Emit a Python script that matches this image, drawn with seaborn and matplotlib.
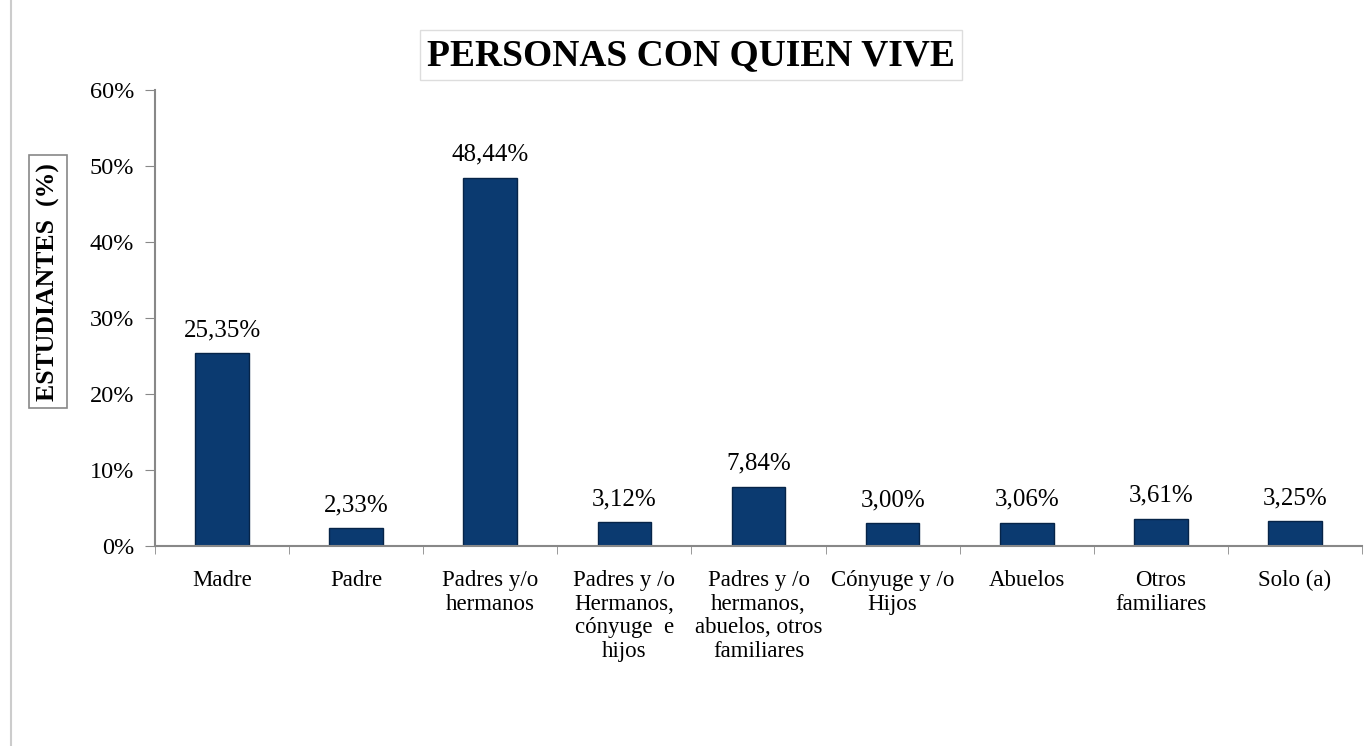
import matplotlib
matplotlib.use("Agg")
import matplotlib.pyplot as plt
import seaborn as sns
import pandas as pd
import numpy as np
from matplotlib.ticker import FuncFormatter, FixedLocator

categorias = ["Madre", "Padre", "Padres y/o\nhermanos", "Padres y /o\nHermanos,\ncónyuge  e\nhijos",
              "Padres y /o\nhermanos,\nabuelos, otros\nfamiliares", "Cónyuge y /o\nHijos",
              "Abuelos", "Otros\nfamiliares", "Solo (a)"]
porcentajes = [25.35, 2.33, 48.44, 3.12, 7.84, 3.00, 3.06, 3.61, 3.25]
etiquetas = ["25,35%", "2,33%", "48,44%", "3,12%", "7,84%", "3,00%", "3,06%", "3,61%", "3,25%"]

df = pd.DataFrame({"Categoria": categorias, "Porcentaje": porcentajes})

sns.set_style("white")
plt.rcParams['font.family'] = ['Liberation Serif', 'DejaVu Serif']
plt.rcParams['text.color'] = 'black'
plt.rcParams['xtick.color'] = 'black'
plt.rcParams['ytick.color'] = 'black'
plt.rcParams['axes.labelcolor'] = 'black'

fig = plt.figure(figsize=(13.64, 7.46), dpi=100)
ax = fig.add_axes([0.1136, 0.268, 0.885, 0.611])

sns.barplot(data=df, x="Categoria", y="Porcentaje", color="#0B3A70", width=0.4,
            edgecolor="#062448", linewidth=1, saturation=1, ax=ax)

for i, (v, t) in enumerate(zip(porcentajes, etiquetas)):
    ax.text(i, v + 1.6, t, ha="center", va="bottom", fontsize=18)

ax.set_ylim(0, 60)
ax.set_xlim(-0.5, len(categorias) - 0.5)
ax.set_yticks(np.arange(0, 61, 10))
ax.yaxis.set_major_formatter(FuncFormatter(lambda y, p: f"{int(y)}%"))
ax.tick_params(axis="y", labelsize=17.5, length=7, color="#888888", direction="out", left=True, pad=8)
ax.tick_params(axis="x", which="major", labelsize=16.5, length=0, pad=17)
ax.xaxis.set_minor_locator(FixedLocator(np.arange(-0.5, len(categorias), 1)))
ax.tick_params(axis="x", which="minor", length=6, color="#888888", direction="out", bottom=True)
for lbl in ax.get_xticklabels():
    lbl.set_linespacing(1.18)

for s in ["top", "right"]:
    ax.spines[s].set_visible(False)
for s in ["left", "bottom"]:
    ax.spines[s].set_color("#888888")
    ax.spines[s].set_linewidth(1.5)

ax.set_xlabel("")
ax.set_ylabel("ESTUDIANTES  (%)", fontsize=18.5, fontweight="bold",
              bbox=dict(boxstyle="square,pad=0.3", facecolor="white", edgecolor="#888888", linewidth=1.2))
ax.yaxis.set_label_coords(-0.079, 0.58)

fig.text(0.5066, 0.926, "PERSONAS CON QUIEN VIVE", ha="center", va="center", fontsize=27, fontweight="bold",
         bbox=dict(boxstyle="square,pad=0.2", facecolor="white", edgecolor="#dddddd", linewidth=1))

# borde izquierdo del gráfico
fig.add_artist(plt.Line2D([0.008, 0.008], [0.0, 1.0], color="#cccccc", linewidth=1.5))

fig.savefig("out.png", dpi=100)
